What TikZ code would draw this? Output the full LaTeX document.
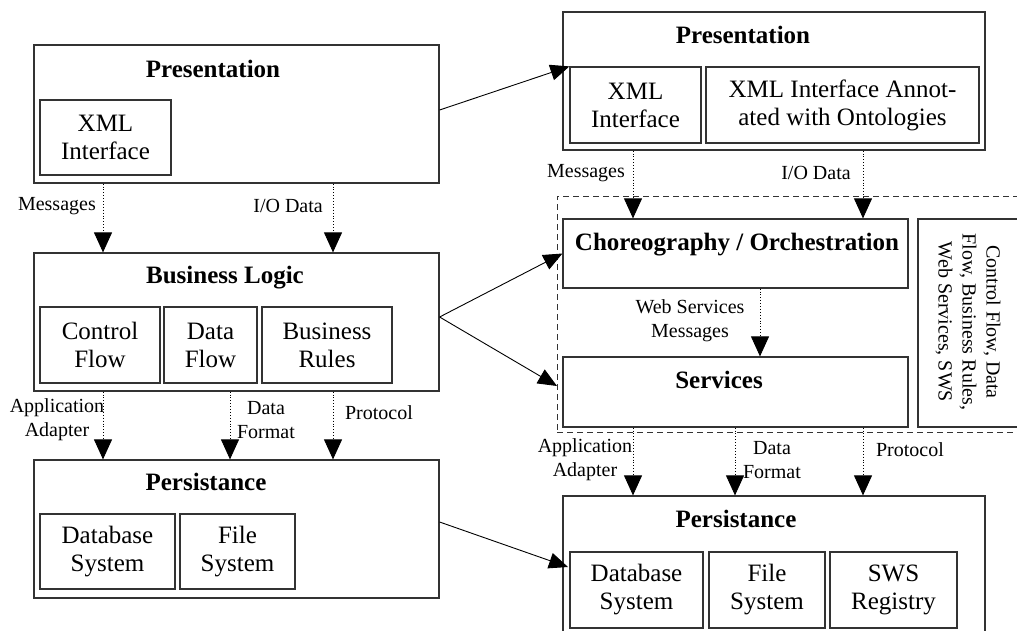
\documentclass[tikz,border=0pt]{standalone}
\usepackage{fontspec}
\setmainfont{Liberation Serif}
\usetikzlibrary{arrows.meta,calc}
\begin{document}
\begin{tikzpicture}[x=1pt,y=-1pt,
 box/.style={draw=black!80,line width=1.2pt,inner sep=0pt},
 inbox/.style={box,align=center,font=\fontsize{25}{28}\selectfont},
 ttl/.style={font=\fontsize{25}{28}\selectfont\bfseries,inner sep=0pt,anchor=base},
 lbl/.style={font=\fontsize{20}{24}\selectfont,align=center,inner sep=0pt},
 flow/.style={dotted,line width=0.9pt,-{Triangle[length=20pt,width=18pt]}},
 link/.style={line width=0.9pt,-{Triangle[length=19pt,width=16pt]}}]
\useasboundingbox (0,0) rectangle (1017,630);
\clip (0,0) rectangle (1017,630);
% ---------- left column ----------
\node[box,minimum width=405pt,minimum height=138pt] (pres1) at (236.5,114) {};
\node[ttl] (pres1t) at (213,77) {Presentation};
\node[inbox,minimum width=131pt,minimum height=75pt] (xml1) at (105.5,137.5) {XML\\Interface};

\node[box,minimum width=405pt,minimum height=138pt] (bl) at (236.5,322) {};
\node[ttl] (blt) at (225,283) {Business Logic};
\node[inbox,minimum width=120pt,minimum height=76pt] (cf1) at (100,345) {Control\\Flow};
\node[inbox,minimum width=93pt,minimum height=76pt] (df1) at (210.5,345) {Data\\Flow};
\node[inbox,minimum width=130pt,minimum height=76pt] (br1) at (327,345) {Business\\Rules};

\node[box,minimum width=405pt,minimum height=138pt] (pers1) at (236.5,529) {};
\node[ttl] (pers1t) at (206,490) {Persistance};
\node[inbox,minimum width=135pt,minimum height=75pt] (db1) at (107.5,551.5) {Database\\System};
\node[inbox,minimum width=115pt,minimum height=75pt] (fs1) at (237.5,551.5) {File\\System};

% ---------- right column ----------
\node[box,dash pattern=on 6pt off 4pt,line width=1pt,minimum width=473pt,minimum height=236pt] (dash) at (793.5,314) {};
\node[box,minimum width=422pt,minimum height=138pt] (pres2) at (774,81) {};
\node[ttl] (pres2t) at (743,43) {Presentation};
\node[inbox,minimum width=131pt,minimum height=76pt] (xml2) at (635.5,105) {XML\\Interface};
\node[inbox,minimum width=273pt,minimum height=76pt] (ann) at (842.5,105) {XML Interface Annot-\\ated with Ontologies};

\node[box,minimum width=345pt,minimum height=69pt] (choreo) at (735.5,253.5) {};
\node[ttl] (choreot) at (737,250) {Choreography / Orchestration};
\node[box,minimum width=345pt,minimum height=70pt] (serv) at (735.5,392) {};
\node[ttl] (servt) at (719,388) {Services};
\node[box,minimum width=112pt,minimum height=208pt] (ctrlbox) at (974,323) {};
\node[lbl,rotate=-90] (ctrltxt) at (968,322) {Control Flow, Data\\Flow, Business Rules,\\Web Services, SWS};

\node[box,minimum width=422pt,minimum height=144pt] (pers2) at (774,568) {};
\node[ttl] (pers2t) at (736,527) {Persistance};
\node[inbox,minimum width=133pt,minimum height=76pt] (db2) at (636.5,590) {Database\\System};
\node[inbox,minimum width=116pt,minimum height=76pt] (fs2) at (767,590) {File\\System};
\node[inbox,minimum width=127pt,minimum height=76pt] (sws) at (893.5,590) {SWS\\Registry};

% ---------- vertical flows ----------
\coordinate (xa) at (103,0);
\coordinate (xb) at (230,0);
\coordinate (xc) at (333,0);
\coordinate (xd) at (633,0);
\coordinate (xe) at (735,0);
\coordinate (xf) at (863,0);
\coordinate (xg) at (760,0);
\draw[flow] (pres1.south -| xa) -- (bl.north -| xa);
\draw[flow] (pres1.south -| xc) -- (bl.north -| xc);
\draw[flow] (bl.south -| xa) -- (pers1.north -| xa);
\draw[flow] (bl.south -| xb) -- (pers1.north -| xb);
\draw[flow] (bl.south -| xc) -- (pers1.north -| xc);
\draw[flow] (pres2.south -| xd) -- (choreo.north -| xd);
\draw[flow] (pres2.south -| xf) -- (choreo.north -| xf);
\draw[flow] (choreo.south -| xg) -- (serv.north -| xg);
\draw[flow] (serv.south -| xd) -- (pers2.north -| xd);
\draw[flow] (serv.south -| xe) -- (pers2.north -| xe);
\draw[flow] (serv.south -| xf) -- (pers2.north -| xf);

% ---------- labels ----------
\node[lbl,anchor=east] (lm1) at (96,206) {Messages};
\node[lbl,anchor=east] (lio1) at (323,206) {I/O Data};
\node[lbl] (laa1) at (57,420) {Application\\Adapter};
\node[lbl] (ldf1) at (266,420) {Data\\Format};
\node[lbl] (lpr1) at (379,413) {Protocol};
\node[lbl] (lm2) at (586,173) {Messages};
\node[lbl] (lio2) at (816,173) {I/O Data};
\node[lbl] (lws) at (690,321) {Web Services\\Messages};
\node[lbl] (laa2) at (585,460) {Application\\Adapter};
\node[lbl] (ldf2) at (772,460) {Data\\Format};
\node[lbl] (lpr2) at (910,450) {Protocol};

% ---------- links between the two architectures ----------
\coordinate (s1) at ([yshift=4pt]pres1.east);
\coordinate (s2) at ([yshift=5pt]bl.east);
\coordinate (s3) at ([yshift=7pt]pers1.east);
\coordinate (e3) at (557,386);
\coordinate (e4) at (568,567);
\draw[link] (s1) -- (xml2.north west);
\draw[link] (s2) -- (choreo.west);
\draw[link] (s2) -- (e3);
\draw[link] (s3) -- (e4);
\end{tikzpicture}
\end{document}
